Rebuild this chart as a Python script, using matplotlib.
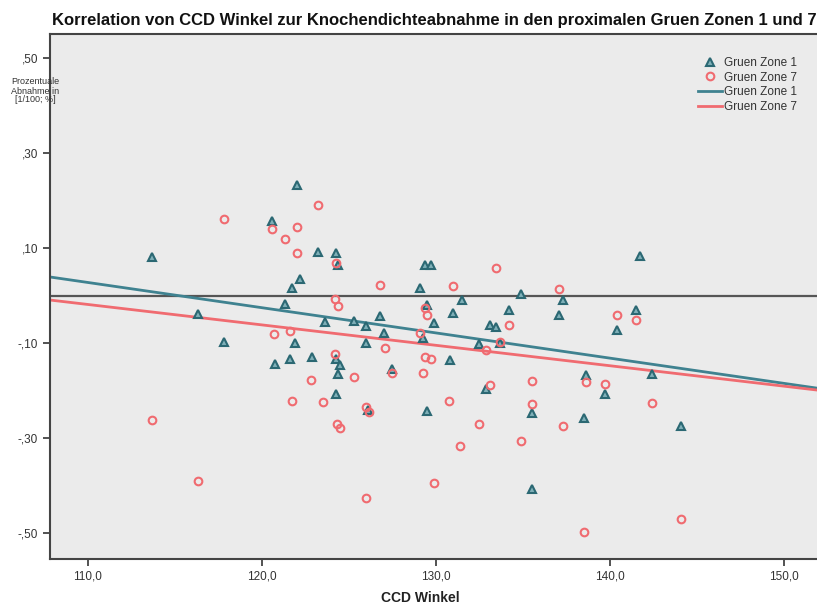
import numpy as np
import matplotlib
matplotlib.use('Agg')
import matplotlib.pyplot as plt

# Gruen Zone 1 (CCD angle, relative loss)
zone1_ccd = [122.0, 120.6, 113.7, 122.2, 121.7, 121.3, 116.3, 117.8, 121.9, 123.2,
             124.25, 124.4, 129.4, 129.7, 129.1, 134.9, 131.5, 129.5, 126.8, 131.0,
             134.2, 123.6, 125.3, 126.0, 129.9, 133.1, 133.45, 127.0, 129.25, 126.0,
             132.5, 133.7, 141.7, 137.3, 137.1, 141.5, 140.4, 138.6, 139.7, 142.4,
             135.5, 132.9, 138.5, 144.1, 120.75, 121.6, 122.9, 124.25, 124.5, 124.4,
             124.25, 127.5, 130.8, 129.5, 126.1, 135.5]
zone1_loss = [0.233, 0.157, 0.081, 0.035, 0.016, -0.018, -0.039, -0.098, -0.100, 0.092,
              0.089, 0.064, 0.064, 0.064, 0.016, 0.003, -0.009, -0.020, -0.043, -0.037,
              -0.031, -0.056, -0.054, -0.064, -0.058, -0.062, -0.066, -0.079, -0.089, -0.100,
              -0.102, -0.100, 0.083, -0.009, -0.041, -0.031, -0.073, -0.167, -0.207, -0.165,
              -0.247, -0.197, -0.258, -0.275, -0.144, -0.134, -0.130, -0.134, -0.146, -0.165,
              -0.207, -0.155, -0.136, -0.243, -0.241, -0.407]

# Gruen Zone 7
zone7_ccd = [117.8, 120.6, 122.0, 121.3, 122.0, 120.7, 121.6, 123.2, 124.25, 133.45,
             126.8, 131.0, 124.2, 124.4, 129.4, 129.5, 134.2, 129.1, 127.1, 133.7,
             132.9, 137.1, 140.4, 141.5, 138.6, 139.7, 142.4, 135.5, 135.5, 133.1,
             137.3, 132.5, 134.9, 124.2, 122.8, 121.7, 123.5, 124.3, 124.5, 113.7,
             116.3, 125.3, 127.5, 129.4, 129.7, 129.25, 130.75, 126.0, 126.15, 131.4,
             129.9, 126.0, 138.5, 144.1]
zone7_loss = [0.161, 0.140, 0.144, 0.119, 0.089, -0.081, -0.075, 0.190, 0.068, 0.058,
              0.022, 0.020, -0.007, -0.022, -0.026, -0.041, -0.062, -0.079, -0.110, -0.098,
              -0.115, 0.014, -0.041, -0.052, -0.182, -0.186, -0.226, -0.180, -0.228, -0.188,
              -0.275, -0.270, -0.306, -0.123, -0.178, -0.222, -0.224, -0.270, -0.279, -0.262,
              -0.390, -0.172, -0.163, -0.130, -0.134, -0.163, -0.222, -0.235, -0.245, -0.317,
              -0.395, -0.426, -0.498, -0.470]

# fit lines as shown in the chart: [intercept, slope]
zone1_fit = [0.6114, -0.005309]
zone7_fit = [0.4540, -0.004299]

x_ticks = [110, 120, 130, 140, 150]
x_ticklabels = ['110,0', '120,0', '130,0', '140,0', '150,0']
y_ticks = [0.5, 0.3, 0.1, -0.1, -0.3, -0.5]
y_ticklabels = [',50', ',30', ',10', '-,10', '-,30', '-,50']

teal = '#3f8290'
teal_dark = '#2b6873'
red = '#f06b70'

plt.rcParams['font.family'] = ['Liberation Sans', 'DejaVu Sans']

fig = plt.figure(figsize=(8.17, 6.05), dpi=100)
ax = fig.add_axes([50 / 817, 1 - 559 / 605, 1 - 50 / 817, (559 - 34) / 605])
ax.set_facecolor('#ebebeb')

xlim = (107.82, 151.9)
ax.set_xlim(xlim)
ax.set_ylim(-0.5547, 0.5505)

# zero reference line
ax.axhline(0, color='#555555', linewidth=1.6, zorder=1)

# fit lines
xs = np.array(xlim)
ax.plot(xs, zone1_fit[0] + zone1_fit[1] * xs, color=teal, linewidth=2, zorder=2)
ax.plot(xs, zone7_fit[0] + zone7_fit[1] * xs, color=red, linewidth=2, zorder=2)

ax.plot(zone1_ccd, zone1_loss, linestyle='none', marker='^', markersize=5.5,
        markerfacecolor='#7fb0b8', markeredgecolor=teal_dark, markeredgewidth=1.5, zorder=3)
ax.plot(zone7_ccd, zone7_loss, linestyle='none', marker='o', markersize=5.5,
        markerfacecolor='none', markeredgecolor=red, markeredgewidth=1.5, zorder=3)

# legend (built by hand like the SPSS one)
h1, = ax.plot([], [], linestyle='none', marker='^', markersize=5.5,
              markerfacecolor='#7fb0b8', markeredgecolor=teal_dark, markeredgewidth=1.5)
h7, = ax.plot([], [], linestyle='none', marker='o', markersize=5.5,
              markerfacecolor='none', markeredgecolor=red, markeredgewidth=1.5)
l1, = ax.plot([], [], color=teal, linewidth=2)
l7, = ax.plot([], [], color=red, linewidth=2)
leg = ax.legend([h1, h7, l1, l7], ['Gruen Zone 1', 'Gruen Zone 7', 'Gruen Zone 1', 'Gruen Zone 7'],
                loc='upper right', bbox_to_anchor=(0.985, 0.972), frameon=False, fontsize=8.5,
                handlelength=2.0, labelspacing=0.22, borderpad=0.2, handletextpad=0.2)
for t in leg.get_texts():
    t.set_color('#333333')

ax.set_xticks(x_ticks)
ax.set_xticklabels(x_ticklabels)
ax.set_yticks(y_ticks)
ax.set_yticklabels(y_ticklabels)
ax.tick_params(axis='both', direction='out', length=5, width=1.3, color='#444444',
               labelsize=8.5, labelcolor='#333333')

for side in ['left', 'bottom', 'top']:
    ax.spines[side].set_color('#444444')
    ax.spines[side].set_linewidth(1.5)
ax.spines['right'].set_visible(False)

fig.text(52 / 817, 1 - 25 / 605,
         'Korrelation von CCD Winkel zur Knochendichteabnahme in den proximalen Gruen Zonen 1 und 7',
         fontsize=12, fontweight='bold', ha='left', va='baseline', color='#111111')
fig.text(420 / 817, 1 - 598 / 605, 'CCD Winkel', fontsize=10, fontweight='bold',
         ha='center', va='center', color='#222222')
fig.text(35 / 817, 1 - 91 / 605, 'Prozentuale\nAbnahme in\n[1/100; %]', fontsize=6.5,
         ha='center', va='center', color='#333333', linespacing=1.0)

fig.savefig('out.png', dpi=100, facecolor='white')
